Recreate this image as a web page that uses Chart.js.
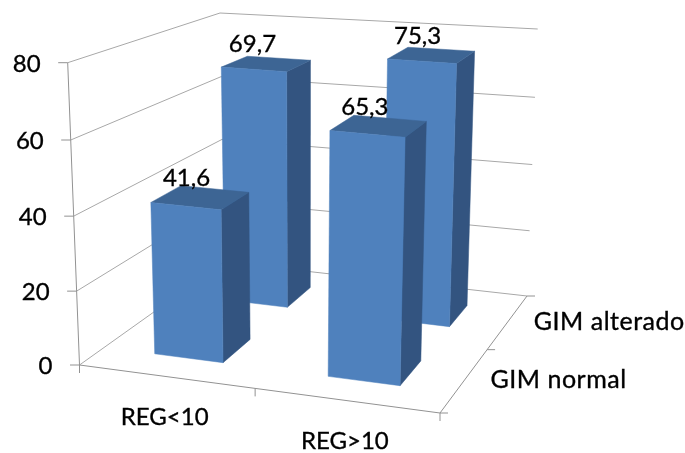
<!DOCTYPE html>
<html>
<head>
<meta charset="utf-8">
<style>html,body{margin:0;padding:0;background:#fff}canvas{display:block}</style>
<script src="https://cdn.jsdelivr.net/npm/chart.js@4"></script>
</head>
<body>
<canvas id="chart" width="685" height="453"></canvas>
<script>
const categories = ['REG<10', 'REG>10'];
const seriesNames = ['GIM normal', 'GIM alterado'];
const gimNormal = [41.6, 65.3];
const gimAlterado = [69.7, 75.3];
const yMax = 80, yStep = 20;

// screen position of the 8 corners of the plot box, [x, value, depth]
const box = {
  '000': [79.5, 365], '100': [440, 413], '001': [224, 262], '101': [527, 296],
  '010': [67.7, 62.7], '110': [449, 96], '011': [220, 13], '111': [537.7, 29]
};
// perspective weights per axis
const persp = { u: 0.95, v: 0.97, w: 1.18 };
const warp = (t, k) => t * k / ((1 - t) + t * k);
const lerp = (a, b, t) => a + (b - a) * t;

function project(u, v, w) {
  const a = warp(u, persp.u), b = warp(v, persp.v), c = warp(w, persp.w);
  const out = [0, 1].map(i => {
    const low = lerp(lerp(box['000'][i], box['100'][i], a), lerp(box['001'][i], box['101'][i], a), c);
    const high = lerp(lerp(box['010'][i], box['110'][i], a), lerp(box['011'][i], box['111'][i], a), c);
    return lerp(low, high, b);
  });
  return out;
}

function face(ctx, pts, color) {
  ctx.beginPath();
  pts.forEach((p, i) => i ? ctx.lineTo(p[0], p[1]) : ctx.moveTo(p[0], p[1]));
  ctx.closePath();
  ctx.fillStyle = color; ctx.strokeStyle = color; ctx.lineWidth = 0.5;
  ctx.fill(); ctx.stroke();
}
function seg(ctx, a, b, color) {
  ctx.beginPath(); ctx.moveTo(a[0], a[1]); ctx.lineTo(b[0], b[1]);
  ctx.strokeStyle = color; ctx.lineWidth = 1; ctx.stroke();
}
// the reference text is a little heavier than plain Lato
function label(ctx, text, x, y) {
  ctx.fillText(text, x, y);
  ctx.strokeText(text, x, y);
}

// bars stay on the library's scales, only the drawing goes through project()
class Bar3dController extends Chart.BarController {
  draw() {
    const { ctx, chartArea: ca } = this.chart;
    const meta = this._cachedMeta;
    const wC = (meta.index + 0.5) / seriesNames.length, wH = 0.1;
    meta.data.forEach(el => {
      const uC = (el.x - ca.left) / ca.width, uH = el.width / 2 / ca.width;
      const v = (ca.bottom - el.y) / ca.height;
      const u0 = uC - uH, u1 = uC + uH, w0 = wC - wH, w1 = wC + wH;
      face(ctx, [project(u1, 0, w0), project(u1, 0, w1), project(u1, v, w1), project(u1, v, w0)], '#335480');
      face(ctx, [project(u0, v, w0), project(u1, v, w0), project(u1, v, w1), project(u0, v, w1)], '#3d6594');
      face(ctx, [project(u0, 0, w0), project(u1, 0, w0), project(u1, v, w0), project(u0, v, w0)], '#4f81bd');
    });
  }
}
Bar3dController.id = 'bar3d';
Bar3dController.defaults = Chart.BarController.defaults;
Chart.register(Bar3dController);

const GRID = '#a8a8a8', AXIS = '#929292';

const frame3d = {
  id: 'frame3d',
  beforeDatasetsDraw(chart) {
    const ctx = chart.ctx, y = chart.scales.y;
    ctx.save();
    y.ticks.forEach(t => {
      const v = t.value / yMax;
      seg(ctx, project(0, v, 0), project(0, v, 1), GRID);
      seg(ctx, project(0, v, 1), project(1, v, 1), GRID);
      const p = project(0, v, 0);
      seg(ctx, [p[0] - 9.5, p[1]], p, AXIS);
    });
    seg(ctx, project(0, 0, 0), project(0, 1, 0), AXIS);
    seg(ctx, project(0, 0, 0), project(1, 0, 0), AXIS);
    seg(ctx, project(1, 0, 0), project(1, 0, 1), AXIS);
    [0, 0.5, 1].forEach(u => {
      const p = project(u, 0, 0);
      seg(ctx, p, [p[0], p[1] + 8], AXIS);
    });
    [0, 0.5, 1].forEach(w => {
      const p = project(1, 0, w);
      seg(ctx, p, [p[0] + 8, p[1]], AXIS);
    });
    ctx.restore();
  },
  afterDatasetsDraw(chart) {
    const ctx = chart.ctx, y = chart.scales.y, x = chart.scales.x, ca = chart.chartArea;
    ctx.save();
    ctx.fillStyle = '#000';
    ctx.strokeStyle = '#000';
    ctx.lineWidth = 0.35;
    ctx.textBaseline = 'middle';
    ctx.font = '24px Lato';
    ctx.textAlign = 'right';
    y.ticks.forEach(t => {
      const p = project(0, t.value / yMax, 0);
      label(ctx, String(t.value), p[0] - 27, p[1] + 1.5);
    });
    ctx.textAlign = 'center';
    chart.data.datasets.forEach((ds, d) => {
      chart.getDatasetMeta(d).data.forEach((el, i) => {
        const u = (el.x - ca.left) / ca.width, v = (ca.bottom - el.y) / ca.height;
        const p = project(u, v, (d + 0.5) / seriesNames.length);
        label(ctx, ds.data[i].toString().replace('.', ','), p[0] - 14, p[1] - 19);
      });
    });
    categories.forEach((c, i) => {
      const p = project((x.getPixelForValue(i) - ca.left) / ca.width, 0, 0);
      label(ctx, c, p[0] - 1.5, p[1] + 41);
    });
    ctx.textAlign = 'left';
    ctx.font = '25px Lato';
    ctx.letterSpacing = '0.5px';
    seriesNames.forEach((s, i) => {
      const p = project(1, 0, (i + 0.5) / seriesNames.length);
      label(ctx, s, p[0] + 26, p[1]);
    });
    ctx.restore();
  }
};

new Chart(document.getElementById('chart'), {
  type: 'bar3d',
  data: {
    labels: categories,
    datasets: [
      { label: seriesNames[0], data: gimNormal, clip: false },
      { label: seriesNames[1], data: gimAlterado, clip: false }
    ]
  },
  options: {
    responsive: false,
    animation: false,
    layout: { padding: { left: 80, right: 80, top: 60, bottom: 90 } },
    grouped: false,
    barPercentage: 0.4,
    categoryPercentage: 1,
    plugins: { legend: { display: false }, tooltip: { enabled: false } },
    scales: {
      x: { type: 'category', ticks: { display: false }, grid: { display: false }, border: { display: false } },
      y: { type: 'linear', min: 0, max: yMax, ticks: { display: false, stepSize: yStep }, grid: { display: false }, border: { display: false } }
    }
  },
  plugins: [frame3d]
});
</script>
</body>
</html>
